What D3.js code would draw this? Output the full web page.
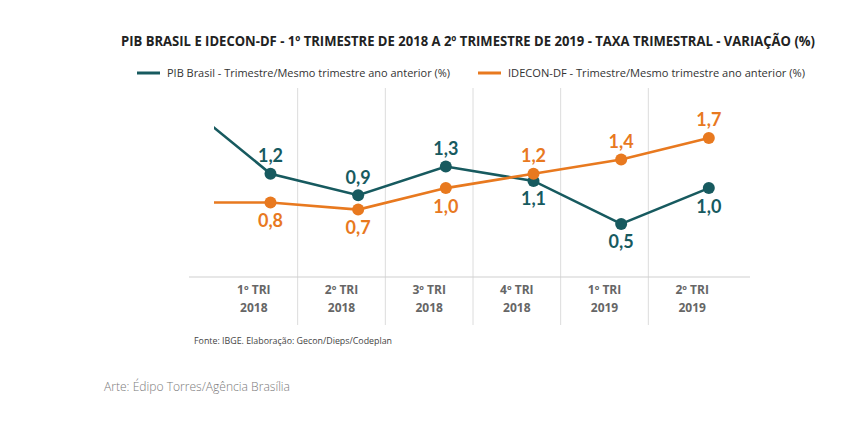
<!DOCTYPE html>
<html><head><meta charset="utf-8">
<script src="https://cdn.jsdelivr.net/npm/d3@7"></script>
<style>
html,body{margin:0;padding:0;background:#fff;}
svg{display:block;font-family:Lato,"Open Sans",sans-serif;}
</style></head>
<body>
<svg id="chart" width="858" height="426"></svg>
<script>
// ---- data ----
const categories = ["1º TRI|2018","2º TRI|2018","3º TRI|2018","4º TRI|2018","1º TRI|2019","2º TRI|2019"];
const pibBrasil  = [1.2, 0.9, 1.3, 1.1, 0.5, 1.0];
const idecon     = [0.8, 0.7, 1.0, 1.2, 1.4, 1.7];
const pibPrev    = 2.2;   // 4º TRI 2017 (line enters from the left)
const ideconPrev = 0.8;
const seriesNames = ["PIB Brasil - Trimestre/Mesmo trimestre ano anterior (%)",
                     "IDECON-DF - Trimestre/Mesmo trimestre ano anterior (%)"];
const titleText = "PIB BRASIL E IDECON-DF - 1º TRIMESTRE DE 2018 A 2º TRIMESTRE DE 2019 - TAXA TRIMESTRAL - VARIAÇÃO (%)";
const sourceText = "Fonte: IBGE. Elaboração: Gecon/Dieps/Codeplan";
const creditText = "Arte: Édipo Torres/Agência Brasília";

const TEAL = "#175a5f", ORANGE = "#e8791f";
const svg = d3.select("#chart");

// scales
const xBand = d3.scaleBand().domain(categories).range([210, 736]).padding(0);
const xi = d3.scaleLinear().domain([-0.5, categories.length - 0.5]).range([210, 736]);
const ptOffset = 0.19;
const y = d3.scaleLinear().domain([0, 2]).range([259.8, 116.4]);

// title
function fit(sel, w){ sel.attr("textLength", w).attr("lengthAdjust","spacingAndGlyphs"); return sel; }
fit(svg.append("text").attr("x",121).attr("y",46).attr("font-size",13.5).attr("font-weight",700)
   .attr("font-family","'Open Sans',sans-serif")
   .attr("fill","#222").text(titleText), 694);

// legend
const leg = [{name:seriesNames[0], c:TEAL, x:137, w:283},{name:seriesNames[1], c:ORANGE, x:478, w:297}];
leg.forEach(l=>{
  svg.append("line").attr("x1",l.x).attr("x2",l.x+23).attr("y1",73).attr("y2",73)
     .attr("stroke",l.c).attr("stroke-width",3);
  fit(svg.append("text").attr("x",l.x+30).attr("y",77).attr("font-size",11.5).attr("fill","#333")
     .attr("font-family","'Open Sans',sans-serif").text(l.name), l.w);
});

// vertical dividers
const bounds = categories.slice(1).map(c=>xBand(c));
svg.append("g").selectAll("line").data(bounds).join("line")
  .attr("x1",d=>d).attr("x2",d=>d).attr("y1",88).attr("y2",325)
  .attr("stroke","#dcdcdc").attr("stroke-width",1);

// x axis
const axisG = svg.append("g").attr("transform","translate(0,277)")
  .call(d3.axisBottom(xBand).tickSize(0).tickPadding(0));
axisG.select(".domain").remove();
svg.append("line").attr("x1",189).attr("x2",750).attr("y1",277).attr("y2",277)
  .attr("stroke","#cfcfcf").attr("stroke-width",1.2);
axisG.selectAll(".tick text").each(function(d){
  const t = d3.select(this).text(null).attr("fill","#666").attr("font-size",12)
     .attr("font-weight",700).attr("font-family","'Open Sans',sans-serif").attr("y",0).attr("dy",null);
  const parts = d.split("|");
  t.append("tspan").attr("x",0).attr("y",17).text(parts[0]);
  t.append("tspan").attr("x",0).attr("y",35).text(parts[1]);
});

// clip for lead-in segments
svg.append("clipPath").attr("id","clip").append("rect")
  .attr("x",214).attr("y",80).attr("width",560).attr("height",200);

const line = d3.line().x(d=>xi(d.i+ptOffset)).y(d=>y(d.v));
const mk = (prev, arr) => [{i:-1,v:prev}].concat(arr.map((v,i)=>({i,v})));
const series = [{vals:pibBrasil, prev:pibPrev, c:TEAL, other:idecon},
                {vals:idecon, prev:ideconPrev, c:ORANGE, other:pibBrasil}];

series.forEach(s=>{
  svg.append("path").datum(mk(s.prev,s.vals)).attr("clip-path","url(#clip)")
    .attr("d",line).attr("fill","none").attr("stroke",s.c).attr("stroke-width",2.6);
});
series.forEach(s=>{
  const pts = s.vals.map((v,i)=>({i,v,above: v > s.other[i]}));
  svg.append("g").selectAll("circle").data(pts).join("circle")
    .attr("cx",d=>xi(d.i+ptOffset)).attr("cy",d=>y(d.v)).attr("r",6).attr("fill",s.c);
  svg.append("g").selectAll("text").data(pts).join("text")
    .attr("x",d=>xi(d.i+ptOffset)).attr("y",d=>y(d.v) + (d.above ? -18 : 18))
    .attr("dy","0.36em").attr("text-anchor","middle").attr("font-size",18).attr("font-weight",700)
    .attr("fill",s.c).text(d=>d3.format(".1f")(d.v).replace(".",","));
});

// footer
fit(svg.append("text").attr("x",194).attr("y",344).attr("font-size",9.5).attr("fill","#444")
   .attr("font-family","'Open Sans',sans-serif").text(sourceText), 198);
fit(svg.append("text").attr("x",104).attr("y",391).attr("font-size",13).attr("fill","#7a7a7a")
   .attr("font-family","'Open Sans',sans-serif").attr("font-weight",300).text(creditText), 186);
</script>
</body></html>
